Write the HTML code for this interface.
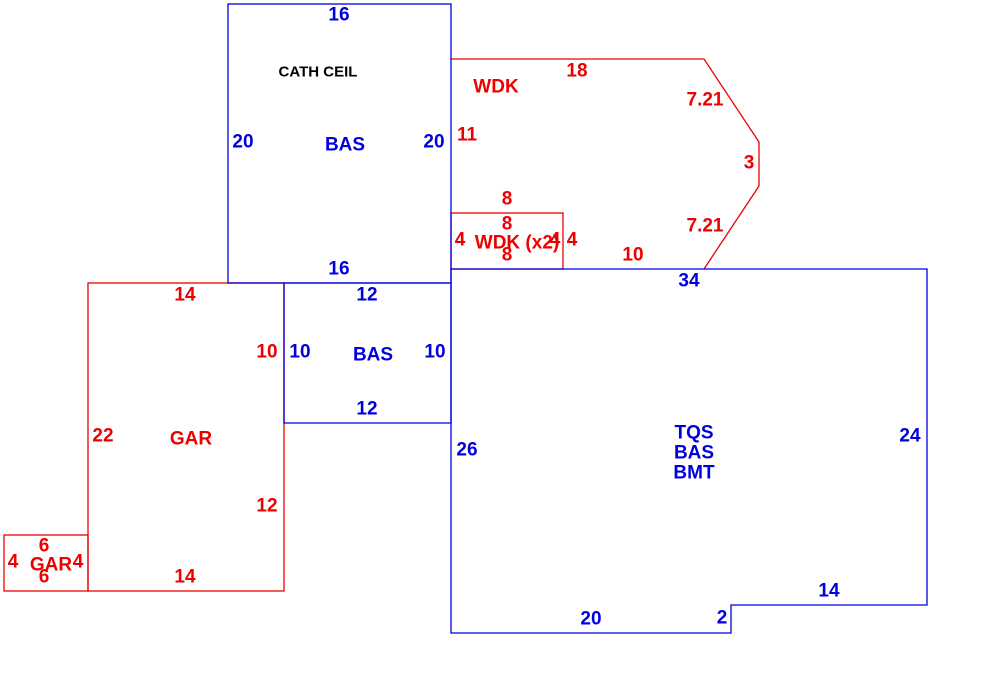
<!DOCTYPE html>
<html><head><meta charset="utf-8"><style>
html,body{margin:0;padding:0;background:#fff;}
svg{display:block;}
text{font-family:"Liberation Sans",Arial,sans-serif;font-weight:bold;font-size:19px;text-anchor:middle;dominant-baseline:central;}
.b{fill:#0000dd;} .r{fill:#ee0000;}
</style></head><body>
<svg width="990" height="699" viewBox="0 0 990 699">
<g fill="none" stroke-width="1.3">
<path d="M451,59 L704,59 L759,142 L759,186 L704,269" stroke="#ee0000"/>
<rect x="451" y="213" width="112" height="56" stroke="#ee0000"/>
<rect x="88" y="283" width="196" height="308" stroke="#ee0000"/>
<rect x="4" y="535" width="84" height="56" stroke="#ee0000"/>
<rect x="228" y="4" width="223" height="279" stroke="#0000dd"/>
<path d="M284,283 L451,283 L451,423 L284,423 Z" stroke="#0000dd"/>
<path d="M451,269 L927,269 L927,605 L731,605 L731,633 L451,633 Z" stroke="#0000dd"/>
</g>
<text class="b" x="339" y="15">16</text>
<text x="318" y="72" style="font-size:15px;fill:#000">CATH CEIL</text>
<text class="b" x="243" y="142">20</text>
<text class="b" x="345" y="145">BAS</text>
<text class="b" x="434" y="142">20</text>
<text class="b" x="339" y="269">16</text>
<text class="r" x="496" y="87">WDK</text>
<text class="r" x="577" y="71">18</text>
<text class="r" x="705" y="100">7.21</text>
<text class="r" x="467" y="135">11</text>
<text class="r" x="749" y="163">3</text>
<text class="r" x="705" y="226">7.21</text>
<text class="r" x="507" y="199">8</text>
<text class="r" x="507" y="224">8</text>
<text class="r" x="507" y="255">8</text>
<text class="r" x="460" y="240">4</text>
<text class="r" x="517" y="243">WDK (x2)</text>
<text class="r" x="555" y="240">4</text>
<text class="r" x="572" y="240">4</text>
<text class="r" x="633" y="255">10</text>
<text class="b" x="689" y="281">34</text>
<text class="r" x="185" y="295">14</text>
<text class="b" x="367" y="295">12</text>
<text class="r" x="267" y="352">10</text>
<text class="b" x="300" y="352">10</text>
<text class="b" x="373" y="355">BAS</text>
<text class="b" x="435" y="352">10</text>
<text class="b" x="367" y="409">12</text>
<text class="r" x="103" y="436">22</text>
<text class="r" x="191" y="439">GAR</text>
<text class="b" x="694" y="433">TQS</text>
<text class="b" x="694" y="453">BAS</text>
<text class="b" x="694" y="473">BMT</text>
<text class="b" x="910" y="436">24</text>
<text class="b" x="467" y="450">26</text>
<text class="r" x="267" y="506">12</text>
<text class="r" x="44" y="546">6</text>
<text class="r" x="13" y="562">4</text>
<text class="r" x="51" y="565">GAR</text>
<text class="r" x="78" y="562">4</text>
<text class="r" x="44" y="577">6</text>
<text class="r" x="185" y="577">14</text>
<text class="b" x="829" y="591">14</text>
<text class="b" x="591" y="619">20</text>
<text class="b" x="722" y="618">2</text>
</svg>
</body></html>
